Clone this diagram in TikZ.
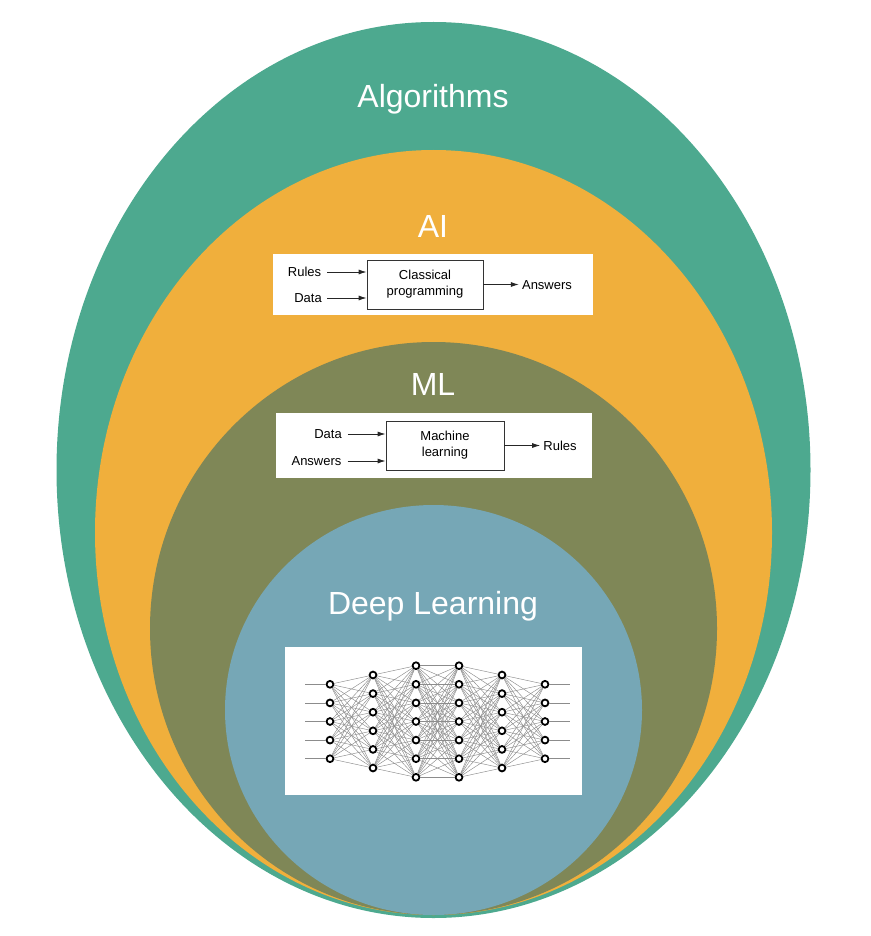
\documentclass[tikz,border=0pt]{standalone}
\usepackage{fontspec}
\setmainfont{Liberation Sans}
\usetikzlibrary{arrows.meta}

\definecolor{algogreen}{RGB}{77,169,143}
\definecolor{aiorange}{RGB}{240,175,60}
\definecolor{mlolive}{RGB}{127,135,87}
\definecolor{dlblue}{RGB}{118,167,182}

\tikzset{
	title/.style={text=white, font=\fontsize{32}{38}\selectfont, anchor=base, inner sep=0pt},
	panel/.style={fill=white, draw=none, inner sep=0pt},
	lbl/.style={font=\fontsize{13}{16}\selectfont, text height=9.4pt, text depth=0pt, inner sep=3pt},
	procbox/.style={draw=black!80, line width=0.8pt, align=center, inner sep=0pt, font=\fontsize{13}{16}\selectfont},
	flow/.style={-{Latex[length=8pt,width=5pt]}, line width=0.9pt, black!85, shorten <=3pt},
	neuron/.style={circle, draw=black, line width=1.8pt, fill=white, inner sep=0pt, minimum size=6.8pt},
	synapse/.style={black!45, line width=0.45pt}
}

\begin{document}
\begin{tikzpicture}[x=1pt, y=-1pt]
\useasboundingbox (0,0) rectangle (870,936);

	%Sets
	\fill[algogreen] (433.5,470) ellipse [x radius=377, y radius=448];
	\fill[aiorange] (433.5,532.5) ellipse [x radius=338.5, y radius=382.5];
	\fill[mlolive] (433.5,628.5) ellipse [x radius=283.5, y radius=286.5];
	\fill[dlblue] (433.5,710) ellipse [x radius=208.5, y radius=205];

\begin{scope}[every node/.style={title}]
	\node (algo) at (433,108) {Algorithms};
	\node (ai) at (433,237) {AI};
	\node (ml) at (433,395) {ML};
	\node (dl) at (433,614) {Deep Learning};
\end{scope}

	%Panels
	\node[panel, minimum width=320pt, minimum height=61pt] (aipanel) at (433,284.5) {};
	\node[panel, minimum width=316pt, minimum height=65pt] (mlpanel) at (434,445.5) {};
	\node[panel, minimum width=297pt, minimum height=148pt] (dlpanel) at (433.5,721) {};

	%Classical programming
	\node[procbox, minimum width=116pt, minimum height=49pt] (cp) at (425,284.5) {Classical\\programming};
	\node[lbl] (cp_rules) at (304.5,272) {Rules};
	\node[lbl] (cp_data) at (308,298) {Data};
	\node[lbl] (cp_ans) at (547,284.5) {Answers};

	\draw[flow] (cp_rules.east) -- (cp_rules.east -| cp.west);
	\draw[flow] (cp_data.east -| cp_rules.east) -- (cp_data.east -| cp.west);
	\draw[flow, shorten <=0pt] (cp.east) -- (cp.east -| cp_ans.west);

	%Machine learning
	\node[procbox, minimum width=118pt, minimum height=49pt] (mlb) at (445,445.5) {Machine\\learning};
	\node[lbl] (ml_data) at (328,434) {Data};
	\node[lbl] (ml_ans) at (316.5,461) {Answers};
	\node[lbl] (ml_rules) at (560,445.5) {Rules};

	\draw[flow] (ml_data.east) -- (ml_data.east -| mlb.west);
	\draw[flow] (ml_ans.east) -- (ml_ans.east -| mlb.west);
	\draw[flow, shorten <=0pt] (mlb.east) -- (mlb.east -| ml_rules.west);

	%Network
	\foreach \l/\n/\x in {1/5/330, 2/6/373, 3/7/416, 4/7/459, 5/6/502, 6/5/545} {
		\foreach \i in {1,...,\n} {
			\node[neuron] (n\l-\i) at (\x, {721.5+(\i-(\n+1)/2)*18.6}) {};
		}
	}
	\foreach \i in {1,...,5} {
		\coordinate (in\i) at (305, {721.5+(\i-3)*18.6});
		\coordinate (out\i) at (570, {721.5+(\i-3)*18.6});
		\draw[synapse] (in\i) -- (n1-\i);
		\draw[synapse] (n6-\i) -- (out\i);
	}
	\foreach \l/\m/\na/\nb in {1/2/5/6, 2/3/6/7, 3/4/7/7, 4/5/7/6, 5/6/6/5} {
		\foreach \i in {1,...,\na} {
			\foreach \j in {1,...,\nb} {
				\draw[synapse] (n\l-\i) -- (n\m-\j);
			}
		}
	}

\end{tikzpicture}
\end{document}
